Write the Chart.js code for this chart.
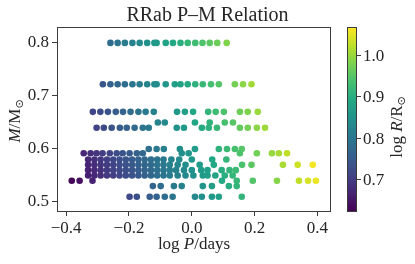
<!DOCTYPE html>
<html>
<head>
<meta charset="utf-8">
<script src="https://cdn.jsdelivr.net/npm/chart.js@4.4.1/dist/chart.umd.min.js"></script>
<style>
  html, body { margin: 0; padding: 0; background: #fff; }
  #wrap { width: 415px; height: 264px; }
</style>
</head>
<body>
<div id="wrap"><canvas id="c" width="415" height="264"></canvas></div>
<script>
/* ─── RRab P–M relation, coloured by log R ───────────────────── */

// one row per model mass (M / Msun)
const massLevels = [0.80, 0.722, 0.67, 0.65, 0.64, 0.60, 0.592, 0.58, 0.57, 0.56, 0.55, 0.54, 0.53, 0.51];

// log P / days for each mass row
const logPRows = [
  [-0.259,-0.236,-0.213,-0.189,-0.166,-0.142,-0.119,-0.112,-0.083,-0.060,-0.036,-0.013,0.011,0.034,0.057,0.081,0.111],
  [-0.283,-0.259,-0.236,-0.213,-0.189,-0.166,-0.142,-0.119,-0.112,-0.083,-0.054,-0.036,-0.013,0.011,0.035,0.061,0.086,0.137,0.163,0.190],
  [-0.315,-0.291,-0.267,-0.242,-0.219,-0.195,-0.170,-0.147,-0.121,-0.047,-0.022,0.004,0.052,0.076,0.102,0.153,0.178,0.210],
  [-0.108,-0.086,0.010,0.057,0.105,0.131],
  [-0.303,-0.280,-0.255,-0.229,-0.207,-0.182,-0.156,-0.137,-0.048,-0.025,0.032,0.054,0.080,0.153,0.178,0.207,0.233],
  [-0.137,-0.112,-0.089,-0.038,0.010,0.086,0.112,0.137,0.159],
  [-0.344,-0.322,-0.303,-0.284,-0.261,-0.239,-0.220,-0.198,-0.175,-0.156,-0.032,-0.010,0.153,0.207,0.255,0.277,0.303],
  [-0.33,-0.31,-0.29,-0.27,-0.25,-0.23,-0.21,-0.19,-0.17,-0.15,-0.13,-0.11,-0.09,-0.065,-0.04,0.00,0.065,0.11],
  [-0.33,-0.31,-0.29,-0.27,-0.25,-0.23,-0.21,-0.19,-0.17,-0.15,-0.13,-0.11,-0.09,-0.07,-0.045,-0.02,0.025,0.07,0.16,0.19,0.29,0.337,0.385],
  [-0.33,-0.31,-0.29,-0.27,-0.25,-0.23,-0.21,-0.19,-0.17,-0.15,-0.13,-0.11,-0.09,-0.07,-0.05,-0.025,0.00,0.03,0.05,0.095,0.12,0.14],
  [-0.33,-0.31,-0.29,-0.27,-0.25,-0.23,-0.21,-0.19,-0.17,-0.15,-0.13,-0.11,-0.09,-0.07,-0.045,-0.02,0.005,0.035,0.05,0.075,0.105,0.13],
  [-0.382,-0.357,-0.316,0.096,0.143,0.194,0.271,0.341,0.370,0.395],
  [-0.124,-0.099,-0.057,-0.032,0.035,0.064,0.118,0.143],
  [-0.198,-0.175,-0.134,-0.112,-0.086,-0.061,0.010,0.032,0.064,0.086,0.159]
];

// log R / Rsun for the same points
const logRRows = [
  [0.781,0.793,0.806,0.819,0.832,0.845,0.858,0.861,0.877,0.890,0.903,0.916,0.929,0.942,0.954,0.968,0.984],
  [0.744,0.758,0.770,0.783,0.796,0.809,0.822,0.835,0.838,0.854,0.870,0.880,0.893,0.906,0.919,0.934,0.947,0.975,0.990,1.005],
  [0.712,0.725,0.738,0.752,0.765,0.778,0.792,0.804,0.818,0.859,0.873,0.887,0.914,0.927,0.941,0.969,0.983,1.001],
  [0.819,0.831,0.884,0.909,0.936,0.950],
  [0.708,0.721,0.735,0.749,0.761,0.775,0.789,0.800,0.849,0.861,0.893,0.905,0.919,0.959,0.973,0.989,1.003],
  [0.786,0.799,0.812,0.840,0.866,0.908,0.923,0.936,0.948],
  [0.668,0.680,0.690,0.701,0.713,0.726,0.736,0.748,0.761,0.771,0.839,0.852,0.941,0.971,0.997,1.009,1.024],
  [0.672,0.684,0.694,0.705,0.716,0.728,0.738,0.750,0.760,0.772,0.782,0.794,0.804,0.818,0.832,0.854,0.890,0.914],
  [0.668,0.680,0.690,0.702,0.712,0.724,0.734,0.746,0.756,0.768,0.778,0.790,0.800,0.812,0.825,0.839,0.864,0.888,0.938,0.954,1.010,1.035,1.062],
  [0.664,0.676,0.686,0.698,0.708,0.720,0.730,0.742,0.752,0.764,0.774,0.786,0.796,0.808,0.818,0.832,0.846,0.863,0.874,0.898,0.912,0.923],
  [0.660,0.672,0.682,0.694,0.704,0.716,0.726,0.738,0.748,0.760,0.770,0.782,0.792,0.804,0.817,0.831,0.845,0.861,0.870,0.883,0.900,0.914],
  [0.628,0.642,0.664,0.891,0.917,0.945,0.987,1.026,1.042,1.055],
  [0.766,0.780,0.803,0.816,0.853,0.869,0.899,0.913],
  [0.717,0.730,0.752,0.764,0.779,0.792,0.832,0.844,0.861,0.873,0.913]
];

const xTicks  = [-0.4, -0.2, 0.0, 0.2, 0.4];
const yTicks  = [0.5, 0.6, 0.7, 0.8];
const cbTicks = [0.7, 0.8, 0.9, 1.0];

const X_MIN = -0.429, X_MAX = 0.443;
const Y_MIN = 0.483,  Y_MAX = 0.830;
const CB_MIN = 0.622, CB_MAX = 1.068;

/* ─── styling ─── */
const SERIF = '"Liberation Serif", "DejaVu Serif", serif';
const F_ROMAN  = `17px ${SERIF}`;
const F_ITALIC = `italic 17px ${SERIF}`;
const F_SUB    = `11px "DejaVu Sans", sans-serif`;
const INK   = '#262626';
const SPINE = '#3c3c3c';

const VIRIDIS = ['#440154','#482475','#414487','#355f8d','#2a788e','#21918c',
                 '#22a884','#44bf70','#7ad151','#bddf26','#fde725'];

function hexRgb(h) {
  return [parseInt(h.slice(1,3),16), parseInt(h.slice(3,5),16), parseInt(h.slice(5,7),16)];
}

function viridis(t) {
  t = Math.min(1, Math.max(0, t));
  const pos = t * (VIRIDIS.length - 1);
  const i = Math.min(VIRIDIS.length - 2, Math.floor(pos));
  const f = pos - i;
  const a = hexRgb(VIRIDIS[i]), b = hexRgb(VIRIDIS[i + 1]);
  const c = a.map((v, k) => Math.round(v + (b[k] - v) * f));
  return `rgb(${c[0]},${c[1]},${c[2]})`;
}

function fmtTick(v) {
  return (v < 0 ? '\u2212' : '') + Math.abs(v).toFixed(1);
}

// mixed roman / italic / subscript text, centred on x, baseline y
function drawParts(ctx, parts, x, y) {
  let w = 0;
  parts.forEach(p => { ctx.font = p.font; p.w = ctx.measureText(p.text).width; w += p.w; });
  let cx = x - w / 2;
  parts.forEach(p => {
    ctx.font = p.font;
    ctx.fillText(p.text, cx, y + (p.dy || 0));
    cx += p.w;
  });
}

/* ─── build points ─── */
const points = [];
const colors = [];
massLevels.forEach((m, i) => {
  logPRows[i].forEach((p, j) => {
    points.push({ x: p, y: m });
    colors.push(viridis((logRRows[i][j] - CB_MIN) / (CB_MAX - CB_MIN)));
  });
});

/* ─── frame, colourbar, title and axis labels ─── */
const figureDecor = {
  id: 'figureDecor',
  afterDraw(chart) {
    const { ctx, chartArea: a } = chart;
    ctx.save();

    // axes box
    ctx.strokeStyle = SPINE;
    ctx.lineWidth = 1;
    ctx.strokeRect(Math.round(a.left) + 0.5, Math.round(a.top) + 0.5,
                   Math.round(a.right - a.left) - 1, Math.round(a.bottom - a.top));

    // colourbar
    const cbL = 347, cbR = 357, cbT = a.top, cbB = a.bottom;
    const grad = ctx.createLinearGradient(0, cbB, 0, cbT);
    VIRIDIS.forEach((c, i) => grad.addColorStop(i / (VIRIDIS.length - 1), c));
    ctx.fillStyle = grad;
    ctx.fillRect(cbL, cbT, cbR - cbL, cbB - cbT);
    ctx.strokeRect(cbL + 0.5, cbT + 0.5, cbR - cbL - 1, cbB - cbT);

    ctx.fillStyle = INK;
    ctx.font = F_ROMAN;
    ctx.textAlign = 'left';
    ctx.textBaseline = 'middle';
    cbTicks.forEach(v => {
      const y = Math.round(cbB - (v - CB_MIN) / (CB_MAX - CB_MIN) * (cbB - cbT)) + 0.5;
      ctx.beginPath();
      ctx.moveTo(cbR, y);
      ctx.lineTo(cbR + 4, y);
      ctx.stroke();
      ctx.fillText(v.toFixed(1), cbR + 6, y + 1);
    });

    ctx.textBaseline = 'alphabetic';

    // title
    ctx.font = `20px ${SERIF}`;
    ctx.textAlign = 'center';
    ctx.fillText('RRab P\u2013M Relation', 207.5, 21);
    ctx.textAlign = 'left';

    // x label
    drawParts(ctx, [
      { text: 'log ', font: F_ROMAN },
      { text: 'P', font: F_ITALIC },
      { text: '/days', font: F_ROMAN }
    ], (a.left + a.right) / 2, 249);

    // y label
    ctx.save();
    ctx.translate(20, 121);
    ctx.rotate(-Math.PI / 2);
    drawParts(ctx, [
      { text: 'M', font: F_ITALIC },
      { text: '/M', font: F_ROMAN },
      { text: '\u2299', font: F_SUB, dy: 3 }
    ], 0, 0);
    ctx.restore();

    // colourbar label
    ctx.save();
    ctx.translate(402, 127);
    ctx.rotate(-Math.PI / 2);
    drawParts(ctx, [
      { text: 'log ', font: F_ROMAN },
      { text: 'R', font: F_ITALIC },
      { text: '/R', font: F_ROMAN },
      { text: '\u2299', font: F_SUB, dy: 3 }
    ], 0, 0);
    ctx.restore();

    ctx.restore();
  }
};

const tickGrid = {
  display: true,
  drawOnChartArea: false,
  drawTicks: true,
  tickLength: 5,
  tickColor: SPINE,
  tickWidth: 1
};

new Chart(document.getElementById('c'), {
  type: 'scatter',
  data: {
    datasets: [{
      data: points,
      pointBackgroundColor: colors,
      pointBorderWidth: 0,
      pointRadius: 3.3,
      pointHoverRadius: 3.3
    }]
  },
  options: {
    responsive: false,
    animation: false,
    devicePixelRatio: 1,
    layout: { padding: { top: 27, right: 84, left: 0, bottom: 0 } },
    plugins: {
      legend: { display: false },
      tooltip: { enabled: false },
      title: { display: false }
    },
    scales: {
      x: {
        type: 'linear',
        min: X_MIN,
        max: X_MAX,
        afterBuildTicks: s => { s.ticks = xTicks.map(v => ({ value: v })); },
        afterFit: s => { s.height = 53; },
        grid: tickGrid,
        border: { display: false },
        ticks: {
          autoSkip: false, maxRotation: 0, padding: 2,
          color: INK, font: { family: SERIF, size: 17 },
          callback: v => fmtTick(v)
        }
      },
      y: {
        type: 'linear',
        min: Y_MIN,
        max: Y_MAX,
        afterBuildTicks: s => { s.ticks = yTicks.map(v => ({ value: v })); },
        afterFit: s => { s.width = 57; },
        grid: tickGrid,
        border: { display: false },
        ticks: {
          autoSkip: false, padding: 3,
          color: INK, font: { family: SERIF, size: 17 },
          callback: v => fmtTick(v)
        }
      }
    }
  },
  plugins: [figureDecor]
});
</script>
</body>
</html>
